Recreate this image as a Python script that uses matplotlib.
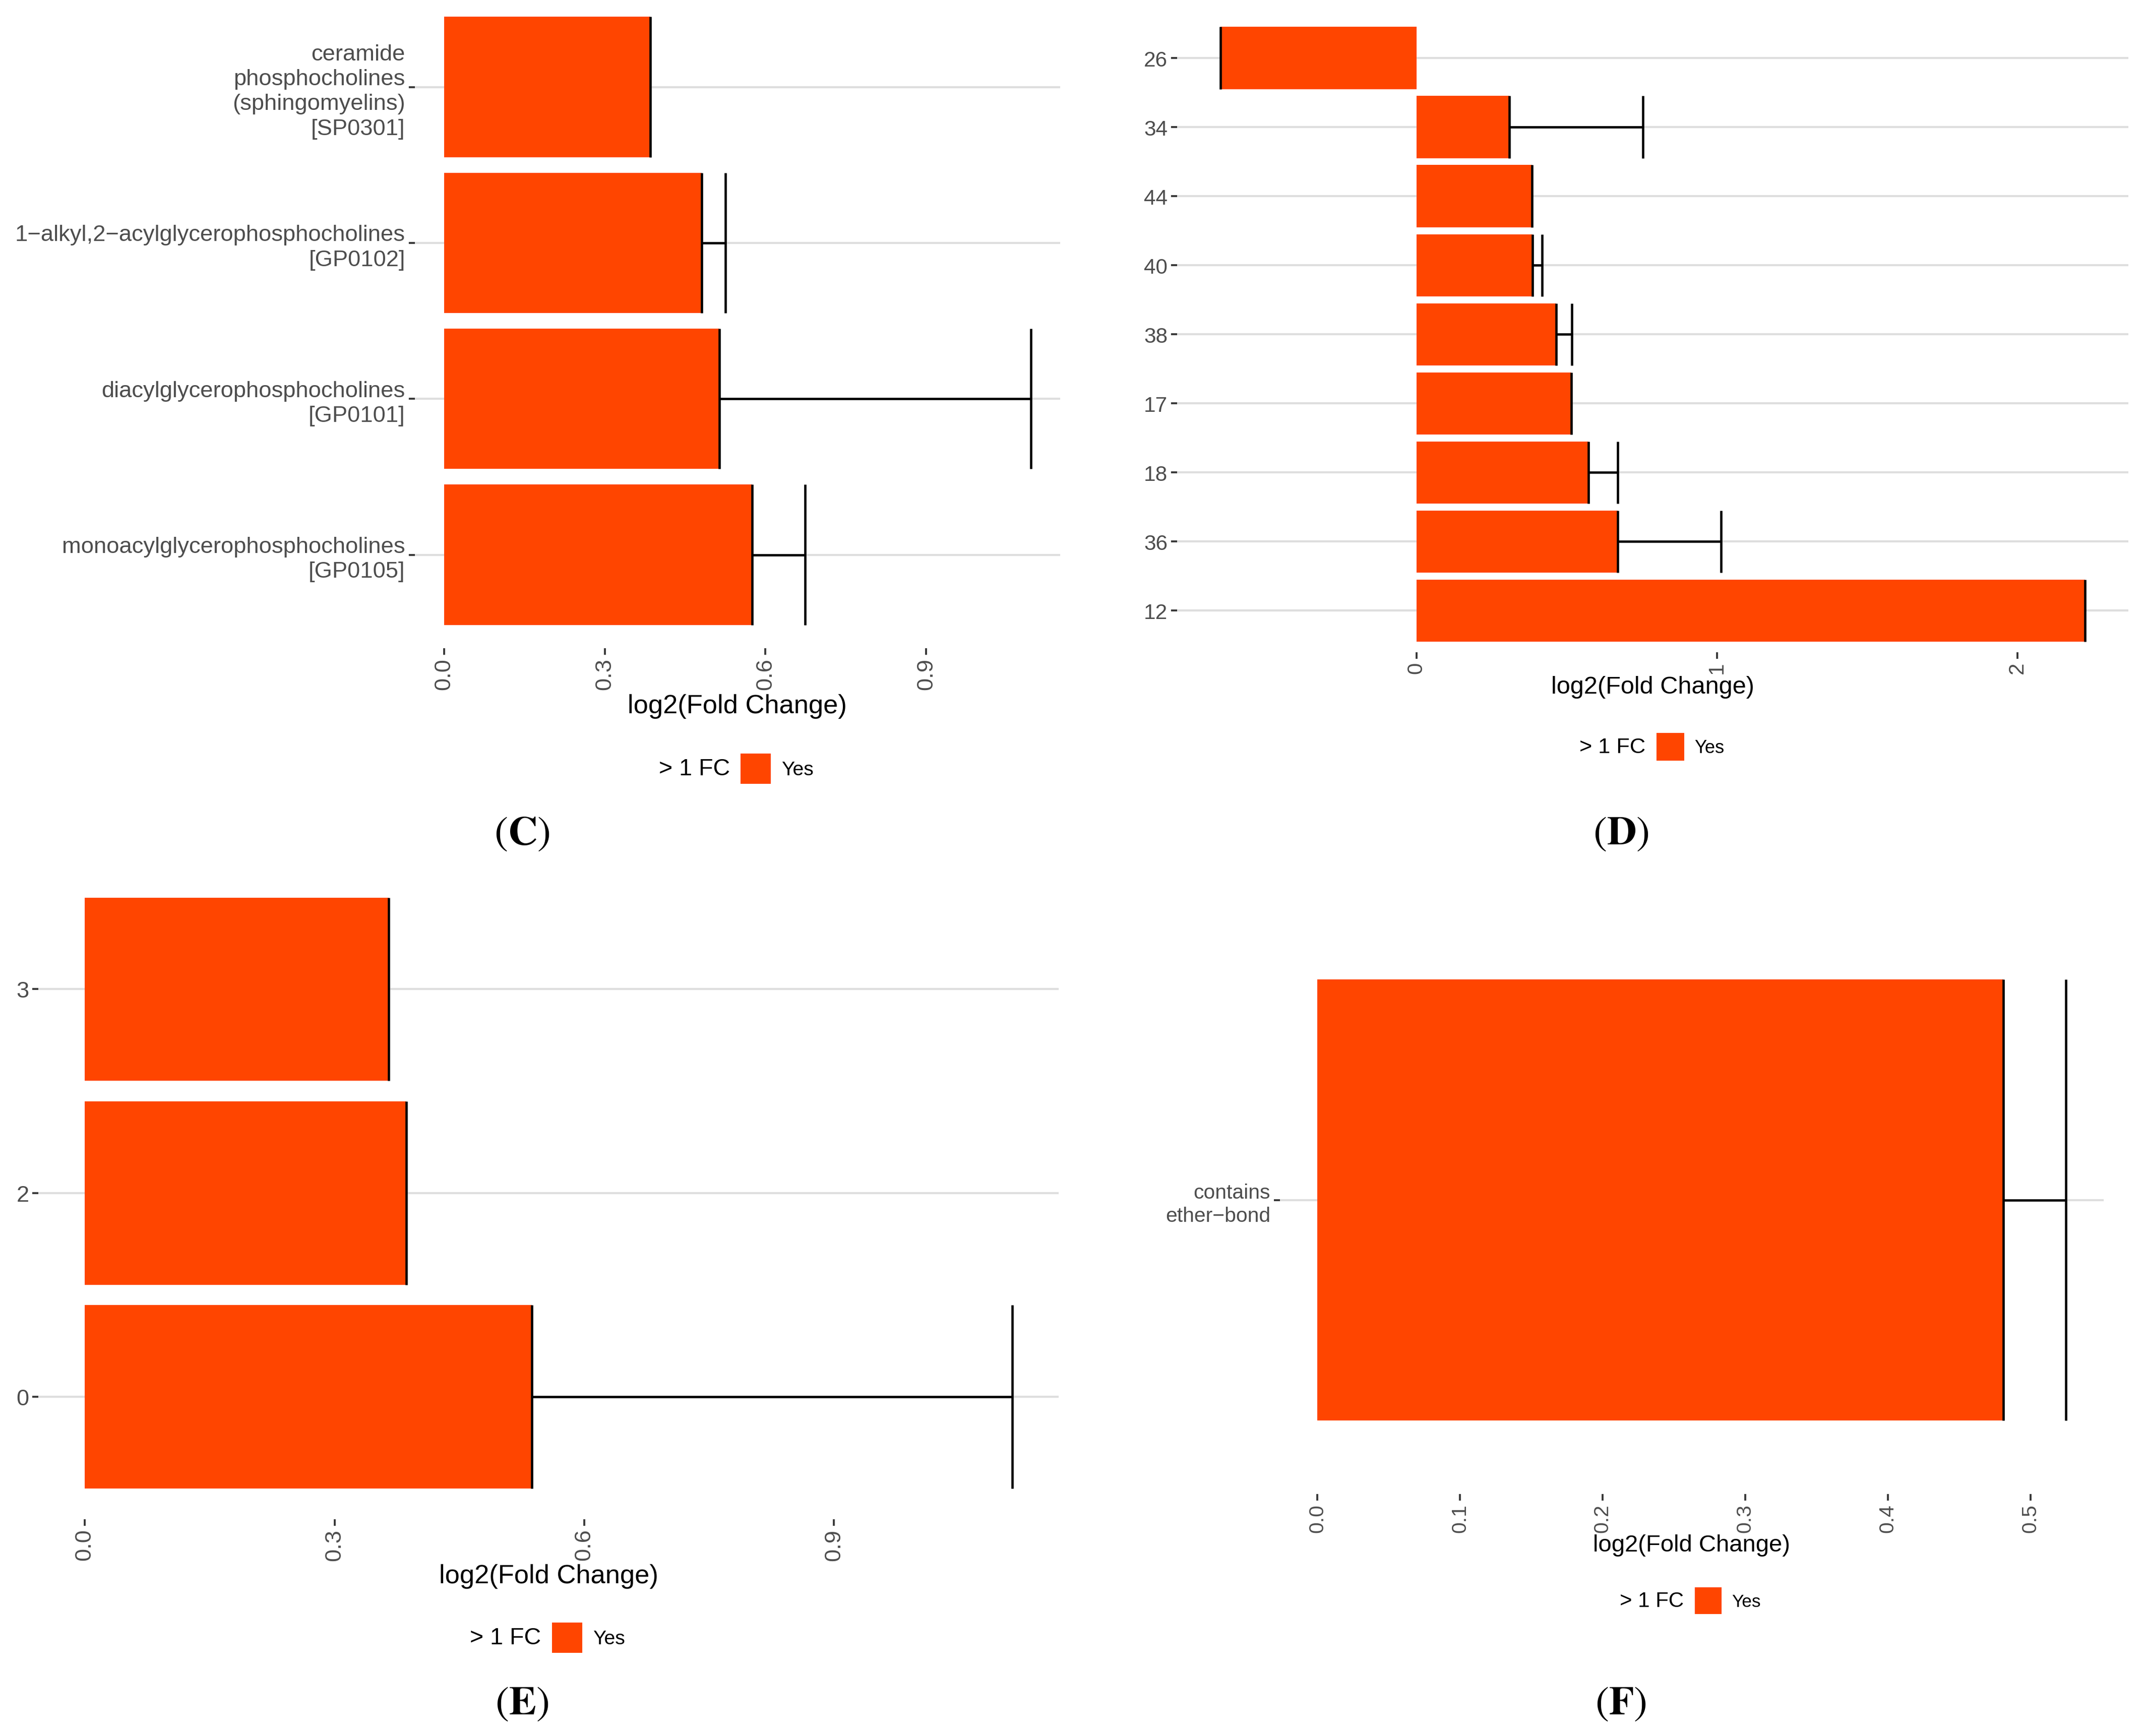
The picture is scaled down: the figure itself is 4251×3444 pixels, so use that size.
import numpy as np
import matplotlib
matplotlib.use("Agg")
import matplotlib.pyplot as plt
from matplotlib.patches import Patch

# panel C - lipid classes
c_labels = ["ceramide\nphosphocholines\n(sphingomyelins)\n[SP0301]",
            "1\u2212alkyl,2\u2212acylglycerophosphocholines\n[GP0102]",
            "diacylglycerophosphocholines\n[GP0101]",
            "monoacylglycerophosphocholines\n[GP0105]"]
c_fc = [0.385, 0.481, 0.514, 0.575]
c_err = [0.0, 0.044, 0.581, 0.099]
c_ticks = [0.0, 0.3, 0.6, 0.9]

# panel D - chain length
d_labels = ["26", "34", "44", "40", "38", "17", "18", "36", "12"]
d_fc = [-0.652, 0.310, 0.384, 0.387, 0.465, 0.516, 0.573, 0.670, 2.225]
d_err = [0.0, 0.443, 0.0, 0.032, 0.052, 0.0, 0.097, 0.344, 0.0]
d_ticks = [0, 1, 2]

# panel E - double bonds
e_labels = ["3", "2", "0"]
e_fc = [0.365, 0.386, 0.537]
e_err = [0.0, 0.0, 0.577]
e_ticks = [0.0, 0.3, 0.6, 0.9]

# panel F - ether bond
f_labels = ["contains\nether\u2212bond"]
f_fc = [0.481]
f_err = [0.044]
f_ticks = [0.0, 0.1, 0.2, 0.3, 0.4, 0.5]

ORANGE = "#FF4500"
W, H = 1568.0, 1271.0  # reference layout measured in these units

plt.rcParams['font.family'] = ['Liberation Sans', 'DejaVu Sans']
plt.rcParams['mathtext.fontset'] = 'stix'

fig = plt.figure(figsize=(4251 / 300, 3445 / 300), dpi=300)


def box(x0, x1, y0, y1):
    return [x0 / W, 1 - y1 / H, (x1 - x0) / W, (y1 - y0) / H]


def panel(rect, labels, fc, err, ticks, tickfmt, title_y, legend_y, key_x, s):
    ax = fig.add_axes(box(*rect))
    fc = np.array(fc)
    err = np.array(err)
    pos = np.arange(len(labels))
    ax.barh(pos, fc, height=0.9, color=ORANGE, zorder=2)
    ax.vlines(fc, pos - 0.45, pos + 0.45, color="black", lw=1.1, zorder=3)
    has = err > 0
    ax.vlines((fc + err)[has], pos[has] - 0.45, pos[has] + 0.45, color="black", lw=1.1, zorder=3)
    ax.hlines(pos[has], fc[has], (fc + err)[has], color="black", lw=1.1, zorder=3)

    lo = min(0, fc.min())
    hi = max((fc + err).max(), 0)
    pad = 0.05 * (hi - lo)
    ax.set_xlim(lo - pad, hi + pad)
    ax.set_ylim(len(labels) - 0.4, -0.6)

    ax.set_yticks(pos)
    ax.set_yticklabels(labels, linespacing=1.26)
    ax.set_xticks(ticks)
    ax.set_xticklabels([tickfmt.format(t) for t in ticks], rotation=90)
    for sp in ax.spines.values():
        sp.set_visible(False)
    ax.grid(False)
    ax.yaxis.grid(True, color="#DEDEDE", lw=1.0, zorder=0)
    ax.set_axisbelow(True)
    ax.tick_params(axis="both", length=3.0, width=0.9, color="#333333",
                   labelcolor="#4D4D4D", labelsize=10.9 * s, pad=1.5)

    # axis title
    y0, y1 = rect[2], rect[3]
    ax.set_xlabel("log2(Fold Change)", fontsize=12.6 * s, va="center")
    ax.xaxis.set_label_coords(0.5, (y1 - title_y) / (y1 - y0))

    # legend: title on the left, one key
    ly = 1 - legend_y / H
    fig.legend(handles=[Patch(facecolor=ORANGE, edgecolor="none")], labels=["Yes"],
               loc="center left", bbox_to_anchor=(key_x / W, ly), frameon=False,
               fontsize=9.4 * s, handlelength=1.52, handleheight=1.96,
               handletextpad=0.55, borderpad=0, borderaxespad=0)
    fig.text((key_x - 8) / W, ly, "> 1 FC", ha="right", va="center", fontsize=11.2 * s)
    return ax


panel((303.4, 775.6, -4.4, 474.9), c_labels, c_fc, c_err, c_ticks, "{:.1f}", 516.9, 563, 542, 1.0)
panel((861.3, 1557.3, 12.5, 477.6), d_labels, d_fc, d_err, d_ticks, "{:d}", 503, 547, 1212, 0.93)
panel((28.1, 774.5, 634.9, 1112.3), e_labels, e_fc, e_err, e_ticks, "{:.1f}", 1153.7, 1199, 404, 1.0)
panel((936.4, 1539.1, 663.6, 1094.0), f_labels, f_fc, f_err, f_ticks, "{:.1f}", 1131, 1172, 1240, 0.9)

for lab, x, y in [("C", 382, 610), ("D", 1186, 610), ("E", 382, 1247), ("F", 1186, 1247)]:
    fig.text(x / W, 1 - y / H, r"$(\mathbf{%s})$" % lab, ha="center", va="center", fontsize=19.5)

fig.savefig("out.png", dpi=300, facecolor="white")
